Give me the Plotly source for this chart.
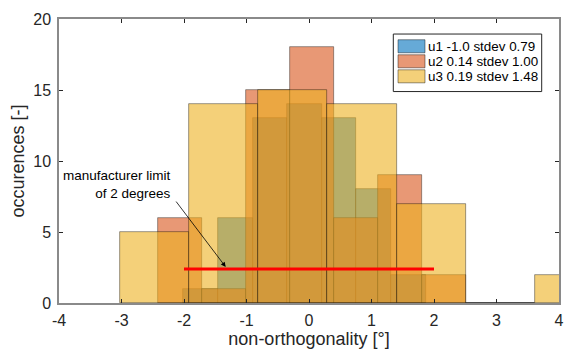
import plotly.graph_objects as go

# ---------------- data ----------------
u1_edges = [-2.01, -1.456, -0.902, -0.349, 0.205, 0.758, 1.312, 1.866]
u1_counts = [1, 6, 13, 14, 13, 8, 2]

u2_edges = [-2.41, -1.706, -1.002, -0.298, 0.406, 1.11, 1.814, 2.518]
u2_counts = [6, 1, 15, 18, 6, 9, 2]

u3_edges = [-3.02, -1.915, -0.81, 0.295, 1.40, 2.505, 3.61, 4.715]
u3_counts = [5, 14, 15, 14, 7, 0, 2]

series_names = ["u1 -1.0 stdev 0.79", "u2 0.14 stdev 1.00", "u3 0.19 stdev 1.48"]
series_rgb = [(0, 114, 189), (217, 83, 25), (237, 177, 32)]

limit_x = [-2, 2]
limit_y = [2.4, 2.4]

x_ticks = [-4, -3, -2, -1, 0, 1, 2, 3, 4]
x_ticklabels = ["-4", "-3", "-2", "-1", "0", "1", "2", "3", "4"]
y_ticks = [0, 5, 10, 15, 20]
y_ticklabels = ["0", "5", "10", "15", "20"]

annot_text = "manufacturer limit<br>of 2 degrees"
annot_tip = (-1.333, 2.54)
annot_tail = (-2.144, 7.25)
annot_text_pos = (-2.17, 8.35)

FONT = "Liberation Sans, Arial, Helvetica, sans-serif"
ALPHA = 0.6

fig = go.Figure()

def add_hist(edges, counts, rgb, name):
    centers = [(edges[i] + edges[i + 1]) / 2 for i in range(len(counts))]
    widths = [edges[i + 1] - edges[i] for i in range(len(counts))]
    fig.add_trace(go.Bar(
        x=centers, y=counts, width=widths, name=name,
        marker=dict(color="rgba(%d,%d,%d,%.2f)" % (rgb + (ALPHA,)),
                    line=dict(color="rgba(0,0,0,0.55)", width=0.7)),
        showlegend=False,
    ))
    # zero-height bins are drawn as a flat line, like MATLAB does
    for i, c in enumerate(counts):
        if c == 0:
            fig.add_trace(go.Scatter(
                x=[edges[i], edges[i + 1]], y=[0, 0], mode="lines",
                line=dict(color="rgba(0,0,0,0.7)", width=1.2),
                showlegend=False, hoverinfo="skip", cliponaxis=False))

add_hist(u1_edges, u1_counts, series_rgb[0], series_names[0])
add_hist(u2_edges, u2_counts, series_rgb[1], series_names[1])
add_hist(u3_edges, u3_counts, series_rgb[2], series_names[2])

fig.add_trace(go.Scatter(x=limit_x, y=limit_y, mode="lines",
                         line=dict(color="rgb(255,0,0)", width=3),
                         showlegend=False))

# annotation text + arrow
fig.add_annotation(x=annot_text_pos[0], y=annot_text_pos[1], xref="x", yref="y",
                   text=annot_text, showarrow=False, xanchor="right", yanchor="middle",
                   align="right", font=dict(family=FONT, size=13.5, color="#000"))
fig.add_annotation(x=annot_tip[0], y=annot_tip[1], ax=annot_tail[0], ay=annot_tail[1],
                   xref="x", yref="y", axref="x", ayref="y", text="",
                   showarrow=True, arrowhead=2, arrowsize=1.2, arrowwidth=0.8,
                   arrowcolor="#000")

# manual legend (MATLAB-style patches)
plot_l, plot_r, plot_t, plot_b = 59, 559, 19.3, 302.7
def px2paper(px, py):
    return ((px - plot_l) / (plot_r - plot_l), (plot_b - py) / (plot_b - plot_t))

bx0, by0 = px2paper(393.3, 34.3)
bx1, by1 = px2paper(541.7, 91.7)
fig.add_shape(type="rect", xref="paper", yref="paper", x0=bx0, y0=by1, x1=bx1, y1=by0,
              line=dict(color="#262626", width=1), fillcolor="white", layer="above")
row_y = [46.5, 61.5, 76.5]
for name, rgb, ry in zip(series_names, series_rgb, row_y):
    px0, py0 = px2paper(398, ry - 6.5)
    px1, py1 = px2paper(425, ry + 6.5)
    fig.add_shape(type="rect", xref="paper", yref="paper", x0=px0, y0=py1, x1=px1, y1=py0,
                  fillcolor="rgba(%d,%d,%d,%.2f)" % (rgb + (ALPHA,)),
                  line=dict(color="rgba(0,0,0,0.6)", width=0.7), layer="above")
    tx, ty = px2paper(425.5, ry)
    fig.add_annotation(x=tx, y=ty, xref="paper", yref="paper", text=name,
                       showarrow=False, xanchor="left", yanchor="middle",
                       font=dict(family=FONT, size=13.4, color="#000"))

axis_common = dict(showgrid=False, zeroline=False, showline=True, linecolor="#8a8a8a",
                   linewidth=1.5, mirror="ticks", ticks="inside", ticklen=4,
                   tickwidth=1, tickcolor="#262626", automargin=False,
                   tickfont=dict(family=FONT, size=16, color="#262626"))

fig.update_layout(
    template="none",
    width=568, height=354,
    margin=dict(l=59, r=9, t=19.3, b=51.3, pad=0),
    paper_bgcolor="white", plot_bgcolor="white",
    barmode="overlay", bargap=0,
    xaxis=dict(range=[-4, 4], tickmode="array", tickvals=x_ticks, ticktext=x_ticklabels,
               ticklabelstandoff=2,
               title=dict(text="non-orthogonality [°]", standoff=3,
                          font=dict(family=FONT, size=18, color="#262626")),
               **axis_common),
    yaxis=dict(range=[0, 20], tickmode="array", tickvals=y_ticks, ticktext=y_ticklabels,
               ticklabelstandoff=3,
               title=dict(text="occurences [-]", standoff=4,
                          font=dict(family=FONT, size=18, color="#262626")),
               **axis_common),
    font=dict(family=FONT),
)

fig.write_html("out.html", config={"displayModeBar": False},
               post_script="document.body.style.margin='0';document.body.style.overflow='hidden';")
